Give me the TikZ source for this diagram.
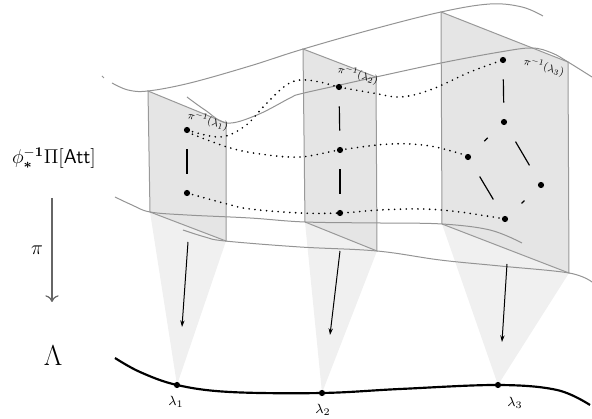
\documentclass[tikz,border=0pt]{standalone}
\usepackage{amsmath,amssymb,bm,graphicx}
\usetikzlibrary{arrows.meta}
\begin{document}
\begin{tikzpicture}[x=0.6pt,y=-0.6pt,
  panel/.style={fill=black!10, draw=black!40, line width=0.6pt},
  cone/.style={fill=black!6, draw=none},
  surf/.style={draw=black!42, line width=0.6pt},
  fiberdots/.style={line width=1.1pt, dash pattern=on 0pt off 3.5pt, line cap=round},
  vedge/.style={line width=0.7pt, shorten <=9.6pt, shorten >=9.6pt},
  dedge/.style={line width=0.7pt, shorten <=11.6pt, shorten >=11.6pt},
  pt/.style={circle, fill=black, inner sep=0pt, minimum size=3.7pt},
  proj/.style={-{Stealth[length=4pt,width=2.6pt]}, line width=0.6pt},
  fib/.style={font=\footnotesize, rotate=-15, inner sep=0pt},
  lam/.style={font=\footnotesize, inner sep=0pt}]
\useasboundingbox (0,0) rectangle (592,419);

% panel corners
\coordinate (p1a) at (148,91);  \coordinate (p1b) at (226,123);
\coordinate (p1c) at (226,241); \coordinate (p1d) at (150,212);
\coordinate (p2a) at (303,49);  \coordinate (p2b) at (376,77);
\coordinate (p2c) at (377,251); \coordinate (p2d) at (305,222);
\coordinate (p3a) at (441,12);  \coordinate (p3b) at (568,62);
\coordinate (p3c) at (569,273); \coordinate (p3d) at (442,224);
% base points
\coordinate (l1) at (177,385); \coordinate (l2) at (322,393); \coordinate (l3) at (498,385);

% cones
\fill[cone] (p1d) -- (p1c) -- (l1) -- cycle;
\fill[cone] (p2d) -- (p2c) -- (l2) -- cycle;
\fill[cone] (p3d) -- (p3c) -- (l3) -- cycle;

% panels
\draw[panel] (p1a) -- (p1b) -- (p1c) -- (p1d) -- cycle;
\draw[panel] (p2a) -- (p2b) -- (p2c) -- (p2d) -- cycle;
\draw[panel] (p3a) -- (p3b) -- (p3c) -- (p3d) -- cycle;

% surface curves
\draw[surf] (102,76) -- (104,78);
\draw[surf] plot[smooth, tension=0.6] coordinates {(112,83) (128,90) (148,91) (190,83) (250,66) (300,50) (370,30) (441,12) (490,4) (522,7) (543,16)};
\draw[surf] plot[smooth, tension=0.6] coordinates {(187,97) (205,110) (227,123) (257,115) (290,98) (300,94) (340,85) (376,77) (441,63) (500,52) (532,48) (552,53) (568,62) (592,77)};
\draw[surf] plot[smooth, tension=0.6] coordinates {(115,197) (132,205) (150,212) (187,215) (250,218) (305,222) (380,223) (442,224) (490,230) (522,243)};
\draw[surf] plot[smooth, tension=0.6] coordinates {(183,230) (205,237) (225,241) (300,247) (377,251) (440,260) (500,266) (569,273) (592,282)};

% fibre points
\node[pt] (a1) at (187,130) {};
\node[pt] (a2) at (187,193) {};
\node[pt] (b1) at (339,87) {};
\node[pt] (b2) at (340,150) {};
\node[pt] (b3) at (340,213) {};
\node[pt] (c1) at (503,60) {};
\node[pt] (c2) at (504,122) {};
\node[pt] (c3) at (468,157) {};
\node[pt] (c4) at (541,185) {};
\node[pt] (c5) at (505,219) {};

% dotted curves
\draw[fiberdots] plot[smooth, tension=0.6] coordinates {(187,130) (220,137) (245,126) (265,105) (285,86) (300,80) (320,82) (339,87) (373,93) (400,97) (430,90) (470,72) (503,60)};
\draw[fiberdots] plot[smooth, tension=0.6] coordinates {(187,132) (227,147) (260,154) (300,157) (340,150) (390,144) (430,146) (468,156)};
\draw[fiberdots] plot[smooth, tension=0.6] coordinates {(187,193) (227,204) (250,209) (300,213) (340,213) (380,210) (423,209) (460,212) (505,219)};

% graph edges
\draw[vedge] (a1) -- (a2);
\draw[vedge] (b1) -- (b2);
\draw[vedge] (b2) -- (b3);
\draw[vedge] (c1) -- (c2);
\draw[dedge] (c2) -- (c3);
\draw[dedge] (c2) -- (c4);
\draw[dedge] (c3) -- (c5);
\draw[dedge] (c4) -- (c5);

% fibre labels
\node[fib] (f1) at (208,121) {\scalebox{0.8}{$\pi^{-1}(\lambda_1)$}};
\node[fib] (f2) at (358,75) {\scalebox{0.8}{$\pi^{-1}(\lambda_2)$}};
\node[fib] (f3) at (544,67) {\scalebox{0.8}{$\pi^{-1}(\lambda_3)$}};

% projection arrows
\coordinate (s1) at (188,242); \coordinate (e1) at (182,327);
\coordinate (s2) at (340,251); \coordinate (e2) at (330,335);
\coordinate (s3) at (507,264); \coordinate (e3) at (502,342);
\draw[proj] (s1) -- (e1);
\draw[proj] (s2) -- (e2);
\draw[proj] (s3) -- (e3);

% base curve
\draw[line width=1.3pt] plot[smooth, tension=0.6] coordinates {(115,358) (140,372) (177,385) (230,392) (322,393) (400,389) (498,385) (557,390) (590,405)};
\node[pt] (d1) at (l1) {};
\node[pt] (d2) at (l2) {};
\node[pt] (d3) at (l3) {};
\node[lam] (t1) at (176,402) {$\lambda_1$};
\node[lam] (t2) at (323,410) {$\lambda_2$};
\node[lam] (t3) at (515,403) {$\lambda_3$};

% left labels
\node[font=\large] (tot) at (54,158) {$\phi_{\bm{*}}^{\mathbf{-1}}\Pi[\mathsf{Att}]$};
\coordinate (ps) at (52,198); \coordinate (pe) at (52,302);
\draw[draw=black!60, line width=0.7pt, -{To[length=4pt,width=8pt]}] (ps) -- (pe);
\node[font=\large] (pi) at (37,250) {$\pi$};
\node[font=\LARGE] (Lam) at (53,356) {$\Lambda$};
\end{tikzpicture}
\end{document}
